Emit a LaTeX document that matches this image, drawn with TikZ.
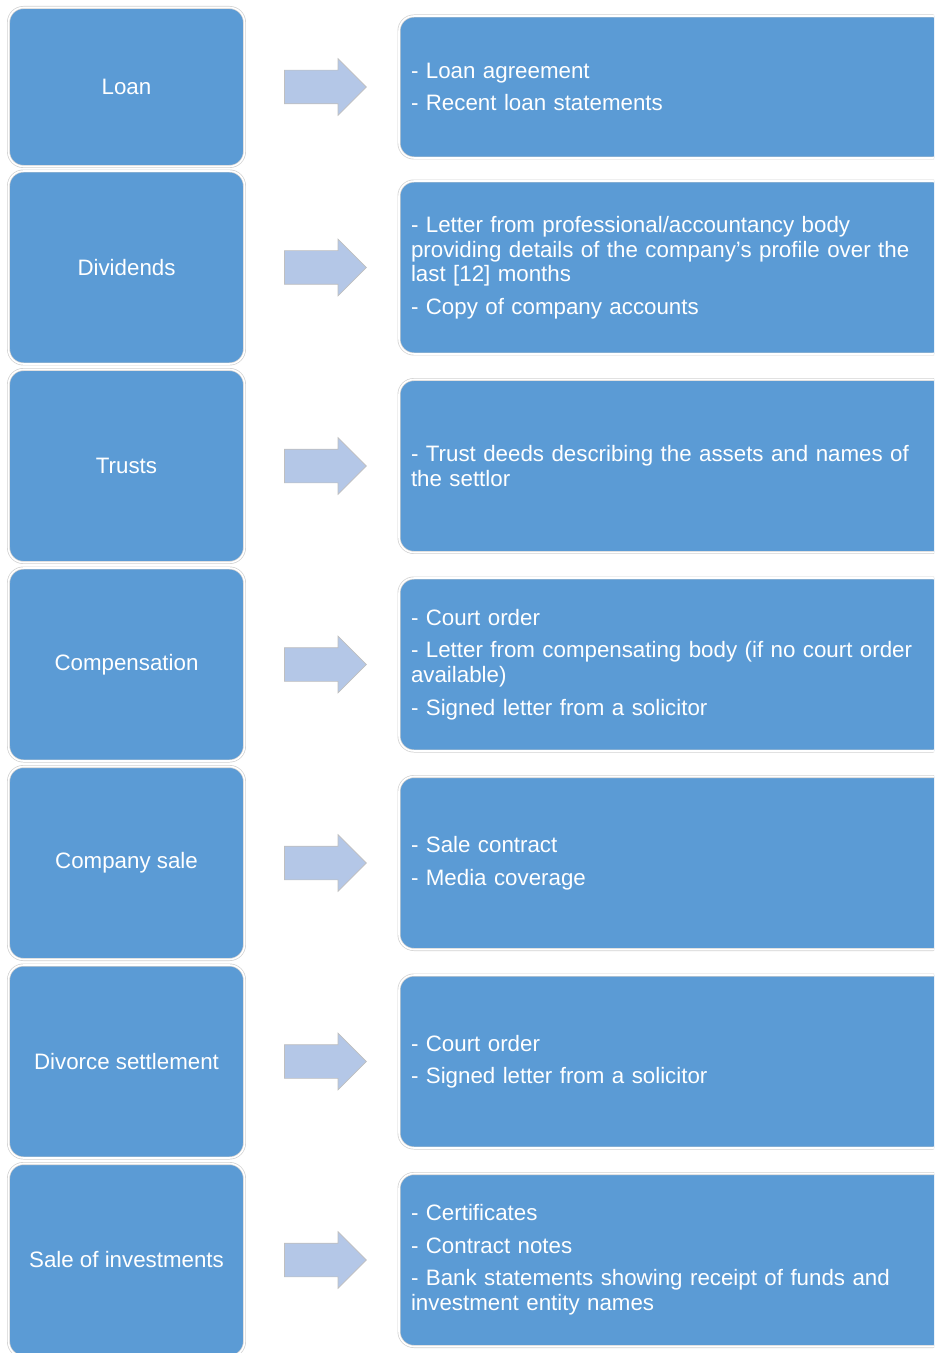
\documentclass[tikz,border=0pt]{standalone}
\usepackage{fontspec}
\setmainfont{Liberation Sans}
\usepackage{xcolor}
\usepackage{tikz}
\usetikzlibrary{positioning,shapes.arrows}

\definecolor{boxblue}{HTML}{5B9BD5}
\definecolor{arrowblue}{HTML}{B4C7E7}

\begin{document}
\begin{tikzpicture}[
catbox/.style={rectangle, rounded corners=0.3cm, fill=boxblue, draw=black!18, double=white, double distance=0.9pt, text=white, minimum width=4.72cm, minimum height=3.86cm, align=center, font=\fontsize{12.7}{14}\selectfont},
docbox/.style={rectangle, rounded corners=0.3cm, fill=boxblue, draw=black!18, double=white, double distance=0.9pt, text=white, minimum height=3.46cm, text width=10.5cm, inner xsep=0.24cm, align=left, font=\fontsize{12.7}{14}\selectfont},
blockarrow/.style={single arrow, fill=arrowblue, draw=black!25, thin, inner xsep=0pt, inner ysep=0.33cm, minimum width=1.12cm, minimum height=1.64cm, single arrow head extend=0.23cm, single arrow tip angle=90}
]
\useasboundingbox (0,0) rectangle (18.68,-27.06);
\clip (0,0) rectangle (18.68,-27.06);

\node[catbox, minimum height=3.18cm](loan) at (2.53,-1.74){Loan};
\node[catbox](dividends)[below of = loan, node distance=3.61cm]{Dividends};
\node[catbox](trusts)[below of = dividends, node distance=3.97cm]{Trusts};
\node[catbox](compensation)[below of = trusts, node distance=3.97cm]{Compensation};
\node[catbox](company_sale)[below of = compensation, node distance=3.97cm]{Company sale};
\node[catbox](divorce)[below of = company_sale, node distance=3.97cm]{Divorce settlement};
\node[catbox](investments)[below of = divorce, node distance=3.97cm]{Sale of investments};

\node[blockarrow](loan_arrow)[right of = loan, node distance=3.81cm]{};
\node[blockarrow](dividends_arrow)[right of = dividends, node distance=3.81cm]{};
\node[blockarrow](trusts_arrow)[right of = trusts, node distance=3.81cm]{};
\node[blockarrow](compensation_arrow)[right of = compensation, node distance=3.81cm]{};
\node[blockarrow](company_sale_arrow)[right of = company_sale, node distance=3.81cm]{};
\node[blockarrow](divorce_arrow)[right of = divorce, node distance=3.81cm]{};
\node[blockarrow](investments_arrow)[right of = investments, node distance=3.81cm]{};

\node[docbox, minimum height=2.84cm](loan_docs)[right of = loan, node distance=10.94cm]{- Loan agreement\\[4.5pt]- Recent loan statements};
\node[docbox](dividends_docs)[right of = dividends, node distance=10.94cm]{- Letter from professional/accountancy body\\providing details of the company's profile over the\\last [12] months\\[4.5pt]- Copy of company accounts};
\node[docbox](trusts_docs)[right of = trusts, node distance=10.94cm]{- Trust deeds describing the assets and names of\\the settlor};
\node[docbox](compensation_docs)[right of = compensation, node distance=10.94cm]{- Court order\\[4.5pt]- Letter from compensating body (if no court order\\available)\\[4.5pt]- Signed letter from a solicitor};
\node[docbox](company_sale_docs)[right of = company_sale, node distance=10.94cm]{- Sale contract\\[4.5pt]- Media coverage};
\node[docbox](divorce_docs)[right of = divorce, node distance=10.94cm]{- Court order\\[4.5pt]- Signed letter from a solicitor};
\node[docbox](investments_docs)[right of = investments, node distance=10.94cm]{- Certificates\\[4.5pt]- Contract notes\\[4.5pt]- Bank statements showing receipt of funds and\\investment entity names};

\end{tikzpicture}
\end{document}
